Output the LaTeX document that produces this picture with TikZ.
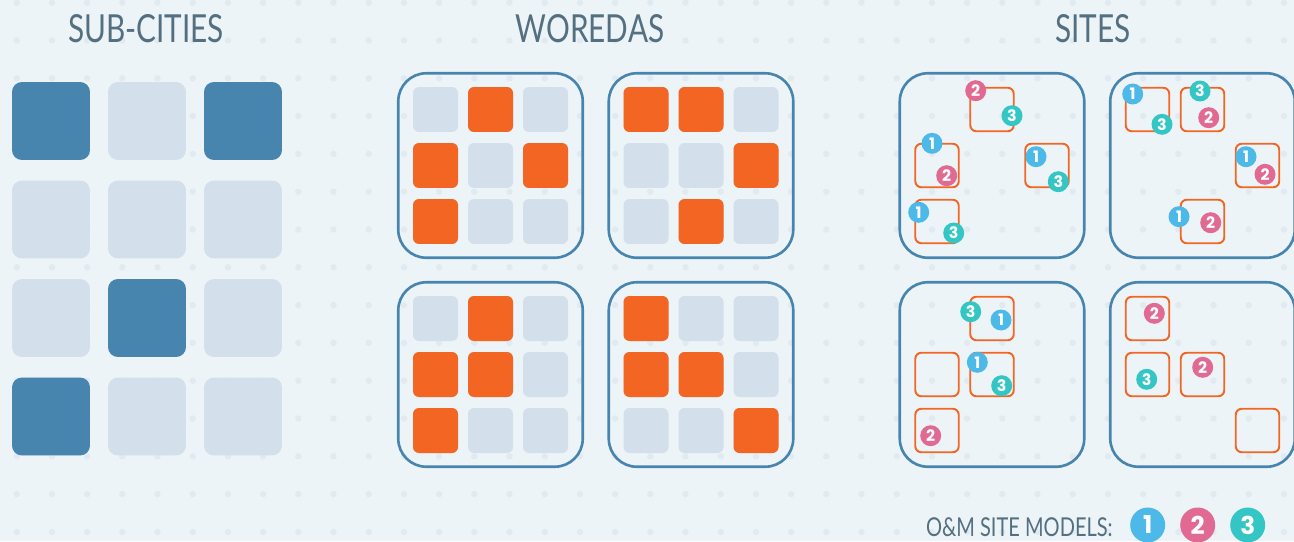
\documentclass[tikz,border=0pt]{standalone}
\usepackage{fontspec}
\usepackage{tikz}
\usetikzlibrary{positioning}
\newfontfamily\headfont[FakeStretch=0.77]{Lato}
\newfontfamily\badgefont{Poppins}
\definecolor{bgpale}{RGB}{237,244,248}
\definecolor{dotgrey}{RGB}{225,234,241}
\definecolor{cityblue}{RGB}{71,133,174}
\definecolor{paleblue}{RGB}{211,223,234}
\definecolor{woredaorange}{RGB}{242,101,34}
\definecolor{headgrey}{RGB}{84,112,128}
\definecolor{model1}{RGB}{76,185,232}
\definecolor{model2}{RGB}{225,106,147}
\definecolor{model3}{RGB}{52,198,196}

\begin{document}
\begin{tikzpicture}[x=0.02cm,y=-0.02cm,
    headtext/.style={font=\headfont\fontsize{22}{24}\selectfont,text=headgrey,inner sep=0},
    legendtext/.style={font=\headfont\fontsize{14.8}{16}\selectfont,text=headgrey,inner sep=0},
    citybox/.style={fill=#1,rounded corners=0.2cm,minimum size=1.56cm,inner sep=0},
    cellbox/.style={fill=#1,rounded corners=0.12cm,minimum size=0.9cm,inner sep=0},
    sitebox/.style={draw=woredaorange,line width=1.1pt,rounded corners=0.12cm,
                    minimum size=0.87cm,inner sep=0},
    areabox/.style={draw=cityblue,line width=1.5pt,rounded corners=0.56cm,
                    minimum size=3.69cm,inner sep=0},
    badge/.style={circle,fill=#1,text=white,inner sep=0,minimum size=0.42cm,
                  font=\badgefont\bfseries\fontsize{9}{9}\selectfont},
    bigbadge/.style={badge=#1,minimum size=0.7cm,
                  font=\badgefont\bfseries\fontsize{14}{14}\selectfont}]
  \useasboundingbox (0,0) rectangle (1294,541);
  \fill[bgpale] (0,0) rectangle (1294,541);
  \foreach \i in {0,...,36}
    \foreach \j in {0,...,14}
      \fill[dotgrey] (16.7+35.2*\i,2.7+37.8*\j) circle[radius=3.2];

  \node[headtext] (subcities) at (146,29) {SUB-CITIES};
  \node[headtext] (woredas) at (590,29) {WOREDAS};
  \node[headtext] (sites) at (1093,29) {SITES};

  \foreach \r in {1,...,4}
    \foreach \c in {1,2,3}
      \node[citybox=paleblue] (sc-\r-\c) at (96*\c-45,98.5*\r+22.5) {};
  \foreach \r/\c in {1/1,1/3,3/2,4/1}
    \node[citybox=cityblue] (sc-d-\r-\c) at (96*\c-45,98.5*\r+22.5) {};

  \foreach \bx/\by/\bn/\cells in {490.5/165.5/wa/{2/1,1/2,3/2,1/3},
                                  701/165.5/wb/{1/1,2/1,3/2,2/3},
                                  490.5/374.5/wc/{2/1,1/2,2/2,1/3},
                                  701/374.5/wd/{1/1,1/2,2/2,3/3}}{
    \node[areabox] (\bn) at (\bx,\by) {};
    \foreach \c in {1,2,3}
      \foreach \r in {1,2,3}
        \node[cellbox=paleblue] (\bn-\r-\c) at (\bx+55*\c-110,\by+56*\r-112) {};
    \foreach \c/\r in \cells
      \node[cellbox=woredaorange] (\bn-o-\r-\c) at (\bx+55*\c-110,\by+56*\r-112) {};
    \node[areabox] (s\bn) at (\bx+501.5,\by) {};
    \foreach \c/\r in \cells
      \node[sitebox] (s\bn-\r-\c) at (\bx+391.5+55*\c,\by+56*\r-112) {};
  }

  \foreach \x/\y/\m [count=\i] in {975.7/90.7/2,1012/115.7/3,932/143.3/1,946.7/175.7/2,
      1036/156.7/1,1058.3/181.7/3,918.7/212.3/1,953.7/233/3,
      1132.7/94/1,1162/124.3/3,1200/91/3,1208.7/117.7/2,
      1246/156.7/1,1265/174.3/2,1179/216.7/1,1210.7/222.7/2,
      970.7/311.7/3,1001/320/1,977.3/362.3/1,1001.7/385.7/3,930.7/435.7/2,
      1154.3/313.3/2,1146.7/379.3/3,1202.7/367.3/2}
    \node[badge=model\m] (bd\i) at (\x,\y) {\m};

  \node[legendtext,anchor=east] (legend) at (1113,527) {O\&M SITE MODELS:};
  \node[bigbadge=model1] (key1) at (1147.7,525) {1};
  \node[bigbadge=model2] (key2) at (1197.7,525) {2};
  \node[bigbadge=model3] (key3) at (1247.7,525) {3};
\end{tikzpicture}
\end{document}
